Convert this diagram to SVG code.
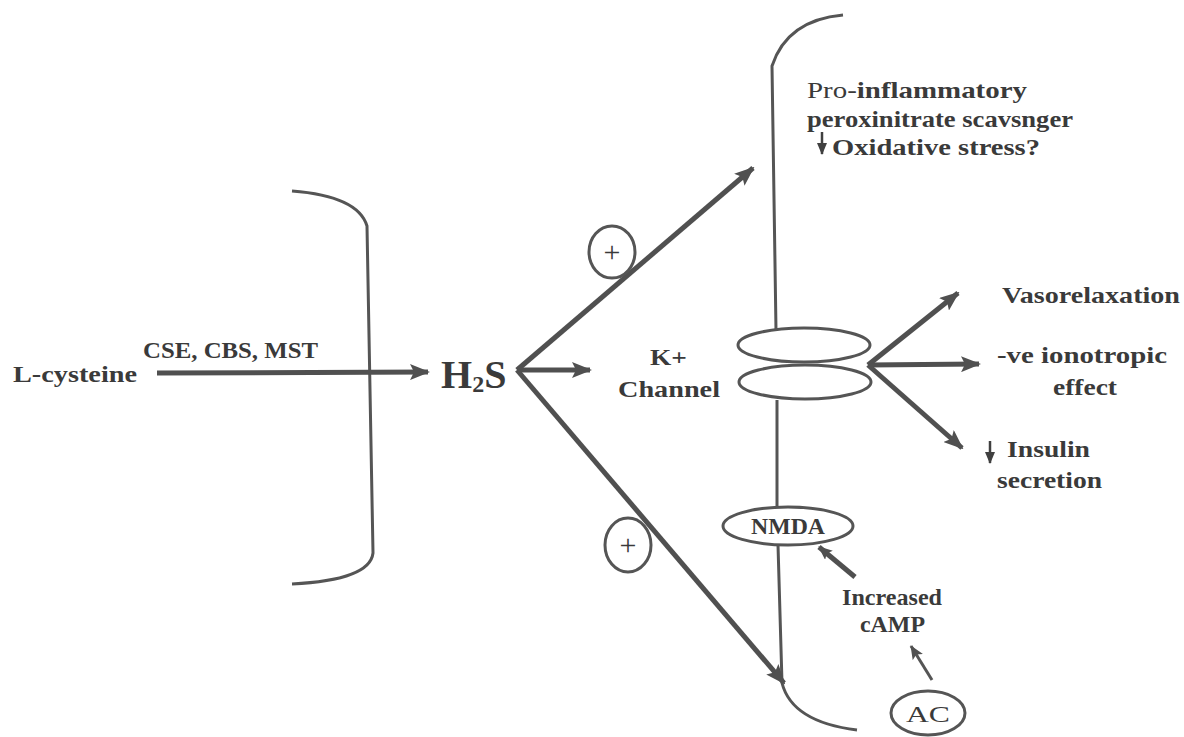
<svg xmlns="http://www.w3.org/2000/svg" width="1184" height="737" viewBox="0 0 1184 737">
<defs>
<marker id="ah" markerUnits="userSpaceOnUse" markerWidth="20" markerHeight="16" viewBox="0 0 20 16" refX="18" refY="8" orient="auto">
<path d="M0,0 L20,8 L0,16 L4,8 Z" fill="#505050"/>
</marker>
<marker id="ahs" markerUnits="userSpaceOnUse" markerWidth="14" markerHeight="12" viewBox="0 0 14 12" refX="13" refY="6" orient="auto">
<path d="M0,0 L14,6 L0,12 L3,6 Z" fill="#505050"/>
</marker>
<marker id="ahd" markerUnits="userSpaceOnUse" markerWidth="12" markerHeight="10" viewBox="0 0 12 10" refX="11" refY="5" orient="auto">
<path d="M0,0 L12,5 L0,10 Z" fill="#404040"/>
</marker>
</defs>
<style>
.t{font-family:"Liberation Serif","Times New Roman",serif;font-weight:bold;fill:#3a3a3a;font-size:24px}
.r{font-weight:normal}
.big{font-size:40px}
.pl{font-size:30px;font-weight:normal}
.ln{fill:none;stroke:#555;stroke-width:3}
.ar{fill:none;stroke:#505050;stroke-width:5}
.el{fill:none;stroke:#555;stroke-width:3}
</style>
<rect width="1184" height="737" fill="#fff"/>

<g id="membranes">
<path class="ln" d="M292,191 Q358,196 367,226 L373,553 Q370,580 292,584"/>
<path class="ln" d="M843,15 Q787,20 772,66 L776,330"/>
<path class="ln" d="M777,400 L777,507"/>
<path class="ln" d="M778,545 L782,683 Q792,722 857,730"/>
</g>

<g id="connectors">
<line class="ar" x1="157" y1="373" x2="428" y2="372" marker-end="url(#ah)"/>
<line class="ar" x1="517" y1="370" x2="590" y2="370" marker-end="url(#ah)"/>
<line class="ar" x1="517" y1="370" x2="753" y2="168" marker-end="url(#ah)"/>
<line class="ar" x1="517" y1="370" x2="784" y2="683" marker-end="url(#ah)"/>
<line class="ar" x1="868" y1="365" x2="958" y2="293" marker-end="url(#ah)"/>
<line class="ar" x1="868" y1="365" x2="979" y2="364" marker-end="url(#ah)"/>
<line class="ar" x1="868" y1="365" x2="962" y2="448" marker-end="url(#ah)"/>
<line class="ar" x1="855" y1="577" x2="819" y2="547" marker-end="url(#ahs)"/>
<line class="ln" x1="932" y1="680" x2="911" y2="646" marker-end="url(#ahs)"/>
<line stroke="#404040" stroke-width="2.5" x1="822" y1="132" x2="822" y2="154" marker-end="url(#ahd)"/>
<line stroke="#404040" stroke-width="2.5" x1="990" y1="441" x2="990" y2="463" marker-end="url(#ahd)"/>
</g>

<g id="l-cysteine"><text class="t" x="13" y="382" textLength="124" lengthAdjust="spacingAndGlyphs">L-cysteine</text></g>
<g id="enzymes"><text class="t" x="143" y="358" textLength="175" lengthAdjust="spacingAndGlyphs">CSE, CBS, MST</text></g>
<g id="h2s"><text class="t big" x="441" y="388">H<tspan style="font-size:24px" dy="4">2</tspan><tspan dy="-4">S</tspan></text></g>

<g id="plus-top"><ellipse class="el" cx="612" cy="252" rx="23" ry="26"/><text class="t pl" x="612" y="262" text-anchor="middle">+</text></g>
<g id="plus-bottom"><ellipse class="el" cx="628" cy="545" rx="23" ry="27"/><text class="t pl" x="628" y="555" text-anchor="middle">+</text></g>

<g id="k-channel-label">
<text class="t" x="650" y="365" textLength="37" lengthAdjust="spacingAndGlyphs">K+</text>
<text class="t" x="618" y="397" textLength="102" lengthAdjust="spacingAndGlyphs">Channel</text>
</g>
<g id="k-channel">
<ellipse class="el" cx="804" cy="345" rx="66" ry="17"/>
<ellipse class="el" cx="805" cy="382" rx="66" ry="17"/>
</g>

<g id="oxidative">
<text class="t" x="807" y="98" textLength="220" lengthAdjust="spacingAndGlyphs"><tspan class="r">Pro-</tspan>inflammatory</text>
<text class="t" x="807" y="127" textLength="266" lengthAdjust="spacingAndGlyphs">peroxinitrate scavsnger</text>
<text class="t" x="832" y="155" textLength="208" lengthAdjust="spacingAndGlyphs">Oxidative stress?</text>
</g>

<g id="vasorelaxation"><text class="t" x="1002" y="303" textLength="178" lengthAdjust="spacingAndGlyphs">Vasorelaxation</text></g>
<g id="ionotropic">
<text class="t" x="997" y="363" textLength="170" lengthAdjust="spacingAndGlyphs">-ve ionotropic</text>
<text class="t" x="1053" y="395" textLength="64" lengthAdjust="spacingAndGlyphs">effect</text>
</g>
<g id="insulin">
<text class="t" x="1007" y="457" textLength="83" lengthAdjust="spacingAndGlyphs">Insulin</text>
<text class="t" x="997" y="488" textLength="105" lengthAdjust="spacingAndGlyphs">secretion</text>
</g>

<g id="nmda"><ellipse class="el" cx="788" cy="526" rx="65" ry="19"/><text class="t" x="788" y="534" text-anchor="middle" textLength="74" lengthAdjust="spacingAndGlyphs">NMDA</text></g>
<g id="camp">
<text class="t" x="842" y="605" textLength="100" lengthAdjust="spacingAndGlyphs">Increased</text>
<text class="t" x="860" y="632" textLength="65" lengthAdjust="spacingAndGlyphs">cAMP</text>
</g>
<g id="ac"><ellipse class="el" cx="928" cy="713" rx="37" ry="22"/><text class="t r" x="928" y="722" text-anchor="middle" textLength="44" lengthAdjust="spacingAndGlyphs">AC</text></g>
</svg>
